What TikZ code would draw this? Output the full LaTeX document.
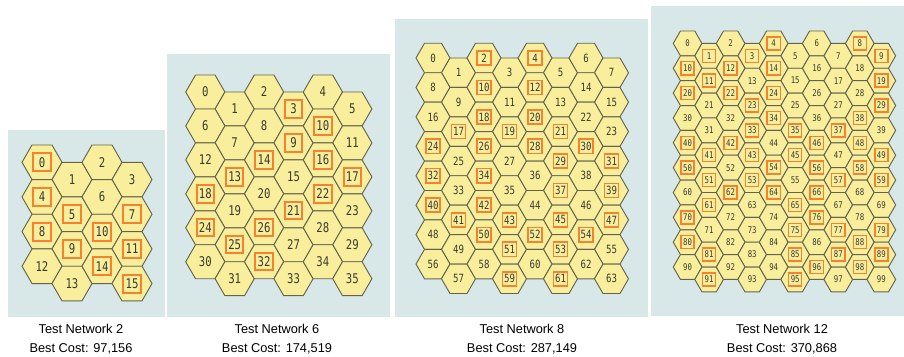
\documentclass[tikz,border=0pt]{standalone}
\usepackage{fontspec}
\setmainfont{Liberation Sans}
\newfontfamily\cellfont[FakeStretch=0.8]{DejaVu Sans Mono}
\usetikzlibrary{shapes.geometric}

\definecolor{panelbg}{HTML}{D8E7E7}
\definecolor{hexfill}{HTML}{F9EE9C}
\definecolor{hexline}{HTML}{64644E}
\definecolor{pickline}{HTML}{F5822E}
\definecolor{numtext}{HTML}{3A3A30}

\begin{document}
\begin{tikzpicture}[x=0.75pt,y=-0.75pt,
  panel/.style={fill=panelbg},
  hexcell/.style={regular polygon,regular polygon sides=6,draw=hexline,fill=hexfill,line width=0.7pt,inner sep=0pt,outer sep=0pt},
  pick/.style={draw=pickline,inner sep=0pt,outer sep=0pt},
  cellnum/.style={text=numtext,inner sep=0pt},
  caption/.style={align=center,font=\fontsize{9.6}{14}\selectfont}]

\useasboundingbox (0,0) rectangle (904,357);

% background panels
\fill[panel] (8,130) rectangle (165,317);
\fill[panel] (167,54) rectangle (390,317);
\fill[panel] (395,19) rectangle (648,317);
\fill[panel] (651,6) rectangle (904,316);

% test network 2 (4x4)
\foreach \r in {0,...,3}{
  \foreach \c in {0,...,3}{
    \pgfmathtruncatemacro\i{4*\r+\c}
    \node[hexcell,minimum size=30pt] (a-\i) at ({42+30*\c},{162.3+34.64*\r+17.32*mod(\c,2)}) {};
    \node[cellnum,font=\cellfont\fontsize{10}{10}\selectfont] at (a-\i) {\i};
  }
}
\foreach \i in {0,4,5,7,8,9,10,11,14,15}
  \node[pick,line width=1.5pt,minimum size=13.5pt] at (a-\i) {};

% test network 6 (6x6)
\foreach \r in {0,...,5}{
  \foreach \c in {0,...,5}{
    \pgfmathtruncatemacro\i{6*\r+\c}
    \node[hexcell,minimum size=29.4pt] (b-\i) at ({205.3+29.4*\c},{92+33.95*\r+16.97*mod(\c,2)}) {};
    \node[cellnum,font=\cellfont\fontsize{10}{10}\selectfont] at (b-\i) {\i};
  }
}
\foreach \i in {3,9,10,13,14,16,17,18,21,22,24,25,26,32}
  \node[pick,line width=1.5pt,minimum size=13pt] at (b-\i) {};

% test network 8 (8x8)
\foreach \r in {0,...,7}{
  \foreach \c in {0,...,7}{
    \pgfmathtruncatemacro\i{8*\r+\c}
    \node[hexcell,minimum size=25.5pt] (c-\i) at ({433+25.5*\c},{58+29.44*\r+14.72*mod(\c,2)}) {};
    \node[cellnum,font=\cellfont\fontsize{8.5}{8.5}\selectfont] at (c-\i) {\i};
  }
}
\foreach \i in {2,4,10,12,17,18,19,20,21,24,26,28,29,30,31,32,34,37,39,40,41,42,43,45,47,50,51,52,53,54,59,61}
  \node[pick,line width=1.2pt,minimum size=10.6pt] at (c-\i) {};

% test network 12 (10x10)
\foreach \r in {0,...,9}{
  \foreach \c in {0,...,9}{
    \pgfmathtruncatemacro\i{10*\r+\c}
    \node[hexcell,minimum size=21.5pt] (d-\i) at ({687.6+21.525*\c},{43.4+24.85*\r+12.43*mod(\c,2)}) {};
    \node[cellnum,font=\cellfont\fontsize{6.9}{6.9}\selectfont] at (d-\i) {\i};
  }
}
\foreach \i in {1,3,4,8,9,10,11,12,14,19,20,22,23,24,29,33,34,35,37,38,40,41,42,43,45,46,48,49,50,51,53,54,56,57,58,59,61,62,64,65,66,70,75,76,77,79,80,81,85,87,88,89,91,95,96,98}
  \node[pick,line width=1.1pt,minimum size=9.8pt] at (d-\i) {};

% captions
\node[caption] (cap-a) at (81,339.5) {Test Network 2\\Best Cost: 97,156};
\node[caption] (cap-b) at (277,339.5) {Test Network 6\\Best Cost: 174,519};
\node[caption] (cap-c) at (522,339.5) {Test Network 8\\Best Cost: 287,149};
\node[caption] (cap-d) at (782,339.5) {Test Network 12\\Best Cost: 370,868};
\end{tikzpicture}
\end{document}
